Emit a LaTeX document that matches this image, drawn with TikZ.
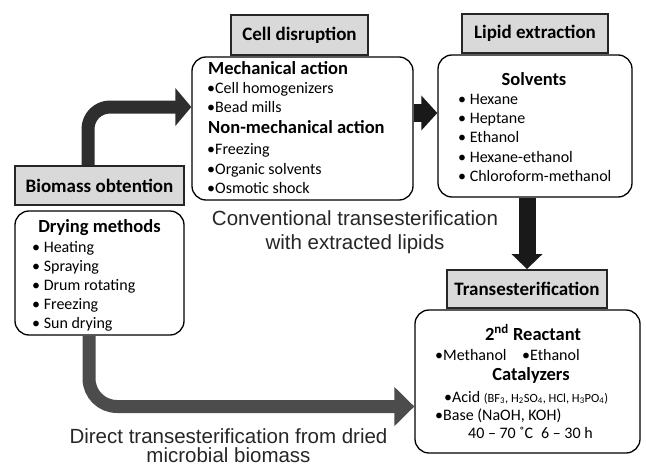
\documentclass[tikz,border=0pt]{standalone}
\usepackage{fontspec}
\setmainfont{Carlito}
\newfontfamily\capfont{Liberation Sans}
\usetikzlibrary{arrows.meta}
\tikzset{
  headbox/.style={draw=black!85, line width=1.8pt, fill=black!15, inner sep=0pt,
    font=\fontsize{19}{19}\selectfont\bfseries},
  rbox/.style={draw=black, line width=1.3pt, fill=white, rounded corners=14pt, inner sep=0pt},
  itm/.style={anchor=base west, inner sep=0pt, font=\fontsize{16}{18}\selectfont},
  ttl/.style={anchor=base, inner sep=0pt, font=\fontsize{18.5}{19}\selectfont\bfseries},
  ttlw/.style={anchor=base west, inner sep=0pt, font=\fontsize{18.5}{19}\selectfont\bfseries},
  captxt/.style={anchor=base, inner sep=0pt, font=\capfont\fontsize{20.5}{22}\selectfont, text=black!85},
  arrA/.style={line width=13pt, draw=black!82, -{Triangle[width=37pt,length=16pt]}},
  arrB/.style={line width=18pt, draw=black!90, -{Triangle[width=34pt,length=16pt]}},
  arrC/.style={line width=17pt, draw=black!90, -{Triangle[width=30pt,length=15pt]}},
  arrD/.style={line width=13pt, draw=black!70, -{Triangle[width=38pt,length=20pt]}},
}
\begin{document}
\begin{tikzpicture}[x=1pt,y=-1pt]
\useasboundingbox (0,0) rectangle (646,466);

% boxes
\node[headbox, minimum width=169pt, minimum height=39pt] (bioHead) at (99.5,185.5) {Biomass obtention};
\node[rbox, minimum width=169pt, minimum height=124pt] (dryBox) at (99.5,273) {};
\node[headbox, minimum width=137pt, minimum height=40pt] (cellHead) at (299.5,35) {Cell disruption};
\node[rbox, minimum width=221pt, minimum height=143pt] (cellBox) at (302.5,128.5) {};
\node[headbox, minimum width=146pt, minimum height=39pt] (lipHead) at (535,33.5) {Lipid extraction};
\node[rbox, minimum width=194pt, minimum height=142pt] (lipidBox) at (535,126) {};
\node[headbox, minimum width=160pt, minimum height=38pt] (transHead) at (527,289) {Transesterification};
\node[rbox, minimum width=225pt, minimum height=143pt] (transBox) at (527.5,381.5) {};

% arrows
\draw[arrA, rounded corners=22pt] ([xshift=-11.5pt]bioHead.north) |- ([yshift=21.5pt]cellBox.west);
\draw[arrB] ([yshift=15.5pt]cellBox.east) -- ([yshift=15.5pt]cellBox.east -| lipidBox.west);
\draw[arrC] ([xshift=-8pt]lipidBox.south) -- ([xshift=-8pt]lipidBox.south |- transHead.north);
\draw[arrD, rounded corners=28pt] ([xshift=-10.5pt]dryBox.south) |- ([yshift=-25pt]transBox.west);

% drying
\node[ttl] (dryT) at (99.5,232) {Drying methods};
\node[itm] (dry1) at (32,252) {• Heating};
\node[itm] (dry2) at (32,271) {• Spraying};
\node[itm] (dry3) at (32,290) {• Drum rotating};
\node[itm] (dry4) at (32,309) {• Freezing};
\node[itm] (dry5) at (32,328) {• Sun drying};

% cell disruption
\node[ttlw] (mechT) at (208,74) {Mechanical action};
\node[itm] (cel1) at (207,93) {•Cell homogenizers};
\node[itm] (cel2) at (207,112) {•Bead mills};
\node[ttlw] (nmechT) at (208,133) {Non-mechanical action};
\node[itm] (cel3) at (207,154) {•Freezing};
\node[itm] (cel4) at (207,174) {•Organic solvents};
\node[itm] (cel5) at (207,193) {•Osmotic shock};

% lipid extraction
\node[ttl] (solT) at (534,85) {Solvents};
\node[itm] (lip1) at (458,104) {• Hexane};
\node[itm] (lip2) at (458,123) {• Heptane};
\node[itm] (lip3) at (458,142) {• Ethanol};
\node[itm] (lip4) at (458,162) {• Hexane-ethanol};
\node[itm] (lip5) at (458,181) {• Chloroform-methanol};

% transesterification
\node[ttl] (reacT) at (533,340) {2\textsuperscript{nd} Reactant};
\node[itm] (tr1) at (435,360) {•Methanol};
\node[itm] (tr2) at (522,360) {•Ethanol};
\node[ttl] (catT) at (531,380) {Catalyzers};
\node[itm] (tr3) at (444,402) {•Acid {\fontsize{12.5}{13}\selectfont (BF\textsubscript{3}, H\textsubscript{2}SO\textsubscript{4}, HCl, H\textsubscript{3}PO\textsubscript{4})}};
\node[itm] (tr4) at (435,420) {•Base (NaOH, KOH)};
\node[itm] (tr5) at (468,438) {40 – 70 ˚C\enspace 6 – 30 h};

% captions
\node[captxt] (conv1) at (355,225) {Conventional transesterification};
\node[captxt] (conv2) at (355,249) {with extracted lipids};
\node[captxt] (dir1) at (228.5,443) {Direct transesterification from dried};
\node[captxt] (dir2) at (228.5,462) {microbial biomass};
\end{tikzpicture}
\end{document}
